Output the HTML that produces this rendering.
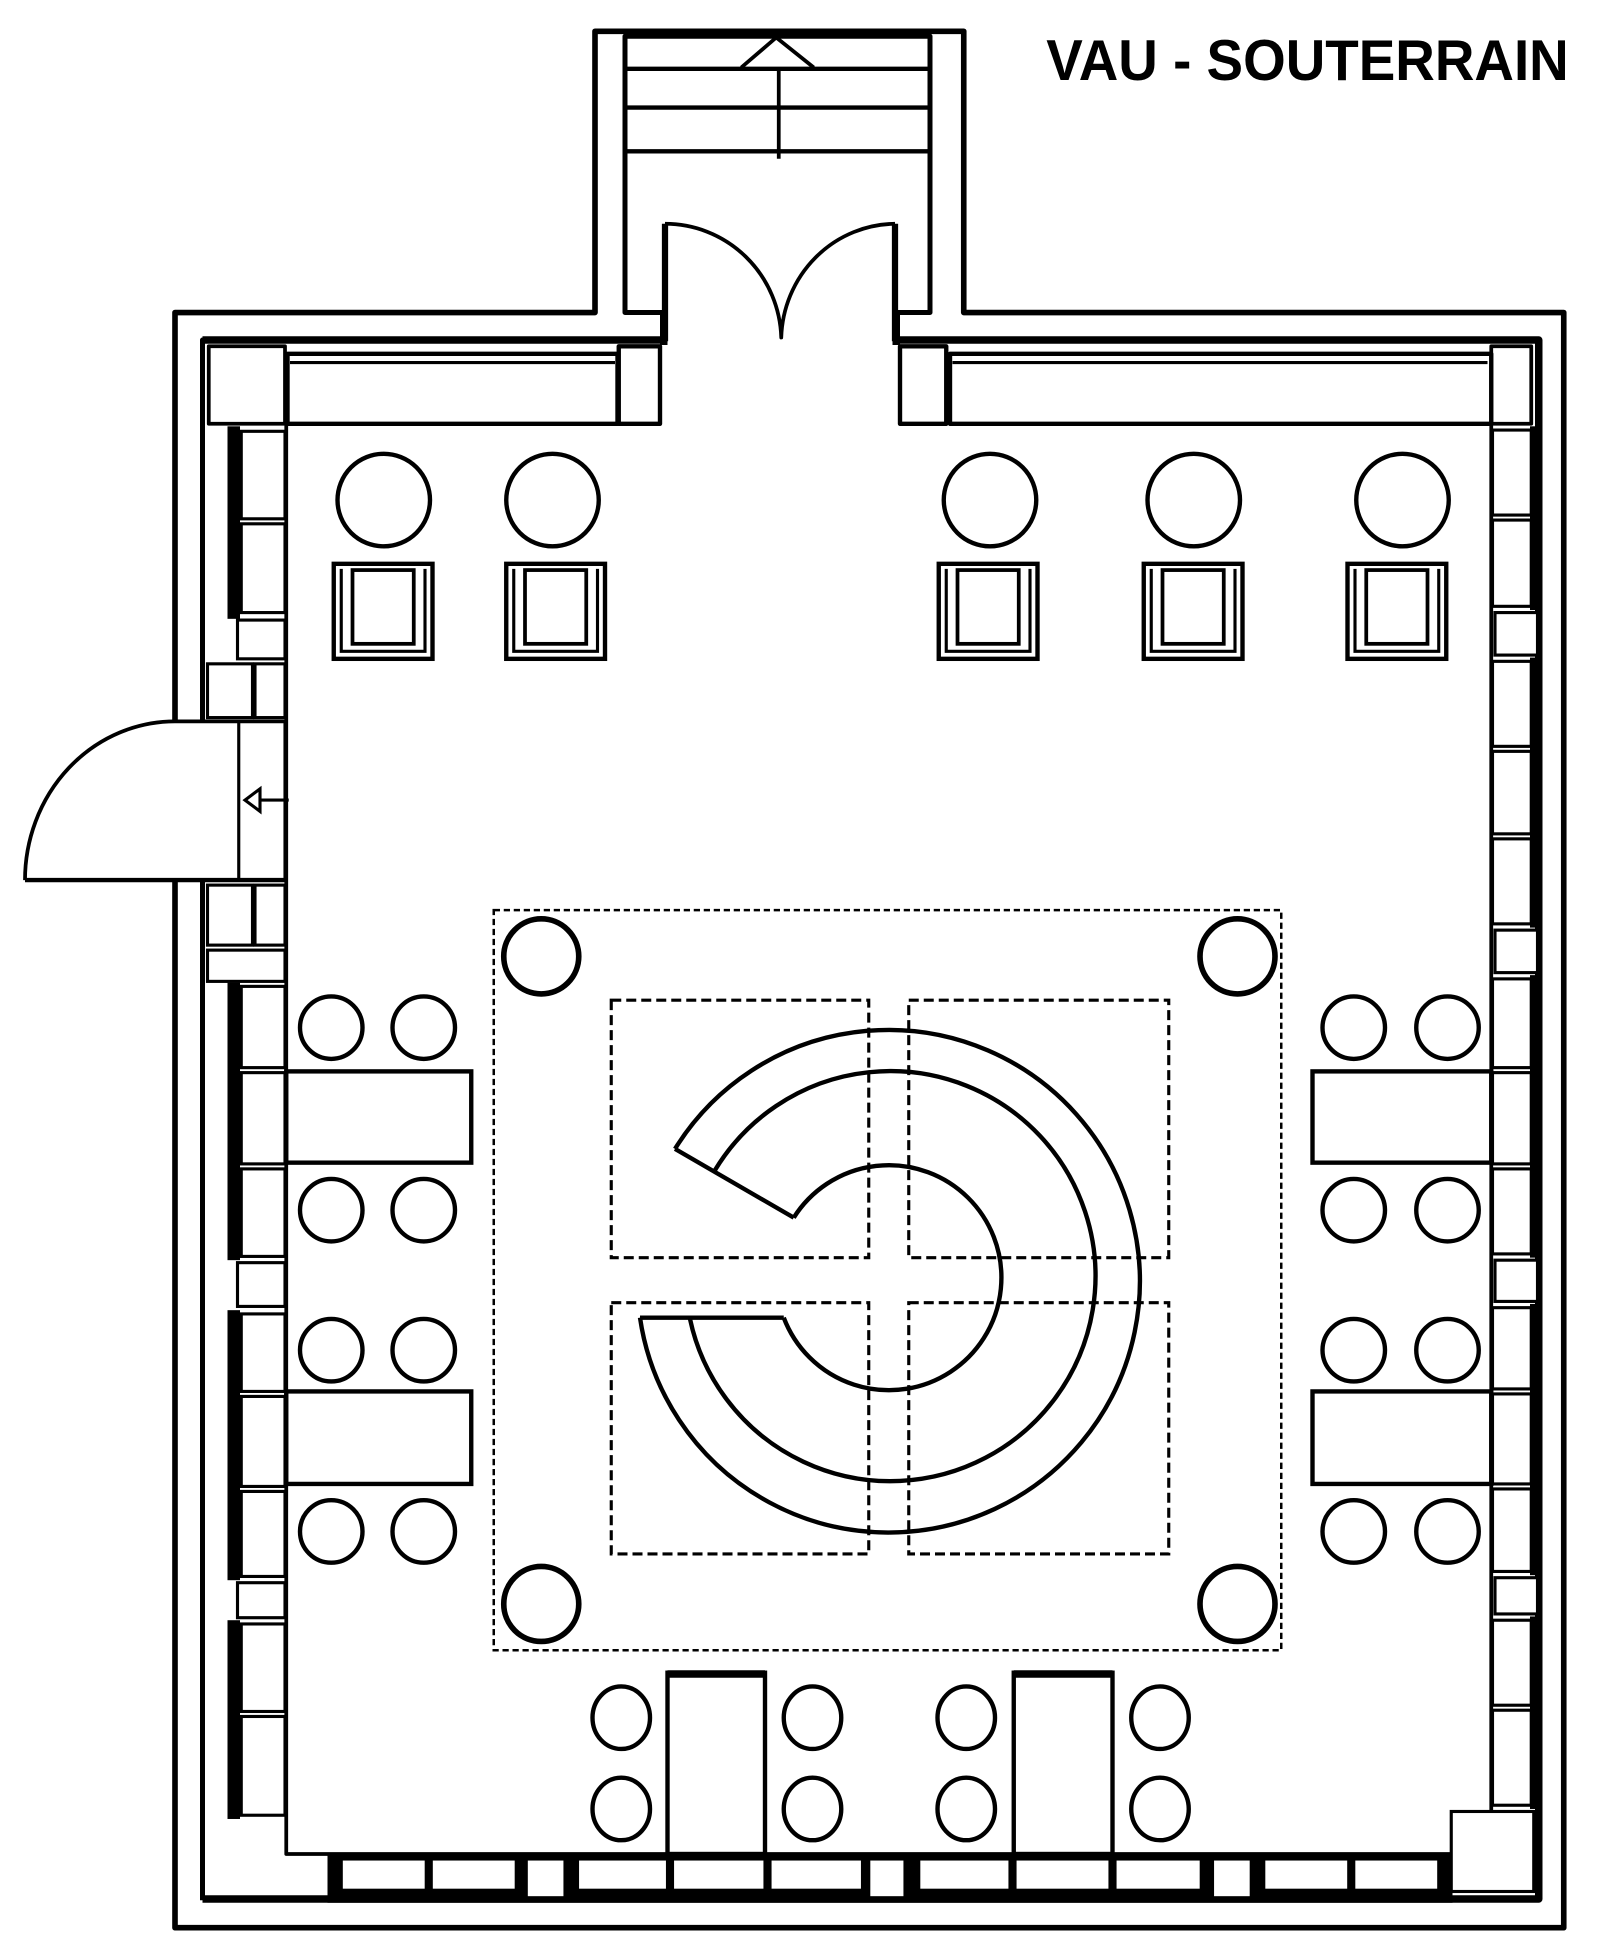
<!DOCTYPE html>
<html><head><meta charset="utf-8"><style>html,body{margin:0;padding:0;background:#fff}svg{display:block}</style></head>
<body>
<svg width="1600" height="1954" viewBox="0 0 1280 1563" preserveAspectRatio="none" xmlns="http://www.w3.org/2000/svg">
<rect width="1280" height="1563" fill="#fff"/>
<g fill="none" stroke="#000" stroke-width="3.5" stroke-linejoin="round">
<path d="M140,577 V250 H476 V25 H771 V250 H1251 V1542 H140 V704" stroke-width="4.5"/>
<path d="M162,577 V272 H532" stroke-width="4"/>
<path d="M162,704 V1520" stroke-width="4"/>
<path d="M162,1519 H1231 V272 H716" stroke-width="6"/>
<path d="M162,272 H532" stroke-width="6"/>
<path d="M532,250 H500 V29 H744 V250 H716" stroke-width="4"/>
<path d="M531,250 V276 M717,250 V276" stroke-width="6"/>
<path d="M532,179 V273 M716,179 V273" stroke-width="5"/>
<path d="M500,55 H744 M500,86 H744 M500,121 H744"/>
<path d="M623,55 V127" stroke-width="3"/>
<path d="M593,54 L621,30 L651,54" stroke-width="3"/>
<path d="M532,179 A93,94 0 0 1 625,270 A92,94 0 0 1 716,179" stroke-width="3"/>
<rect x="495" y="277" width="33" height="62"/>
<rect x="720" y="277" width="37" height="62"/>
<rect x="230" y="283" width="264" height="56"/>
<path d="M232,290 H492" stroke-width="2.5"/>
<rect x="760" y="283" width="433" height="56"/>
<path d="M762,290 H1190" stroke-width="2.5"/>
<path d="M229,339 V1483 H1193 V339" stroke-width="3"/>
<rect x="167" y="277" width="61" height="62" stroke-width="3"/>
<rect x="1193" y="277" width="32" height="62" stroke-width="3"/>
</g>
<g fill="#000">
<rect x="182" y="341" width="10" height="154"/>
<rect x="182" y="786" width="10" height="222"/>
<rect x="182" y="1048" width="10" height="216"/>
<rect x="182" y="1296" width="10" height="159"/>
<rect x="1224" y="341" width="10" height="147"/>
<rect x="1224" y="526" width="10" height="216"/>
<rect x="1224" y="780" width="10" height="226"/>
<rect x="1224" y="1043" width="10" height="217"/>
<rect x="1224" y="1293" width="10" height="154"/>
<rect x="262" y="1483" width="900" height="39"/>
</g>
<g fill="#fff" stroke="#000" stroke-width="2.5">
<rect x="193" y="345" width="35" height="70"/>
<rect x="193" y="419" width="35" height="71"/>
<rect x="190" y="496" width="38" height="31"/>
<rect x="166" y="531" width="36" height="43"/>
<rect x="204" y="531" width="24" height="43"/>
<rect x="191" y="577" width="37" height="127"/>
<rect x="166" y="708" width="36" height="48"/>
<rect x="204" y="708" width="24" height="48"/>
<rect x="166" y="760" width="62" height="25"/>
<rect x="193" y="789" width="35" height="65"/>
<rect x="193" y="858" width="35" height="73"/>
<rect x="193" y="935" width="35" height="70"/>
<rect x="190" y="1010" width="38" height="35"/>
<rect x="193" y="1051" width="35" height="62"/>
<rect x="193" y="1117" width="35" height="72"/>
<rect x="193" y="1193" width="35" height="68"/>
<rect x="190" y="1266" width="38" height="28"/>
<rect x="193" y="1299" width="35" height="70"/>
<rect x="193" y="1373" width="35" height="79"/>
<rect x="1194" y="344" width="31" height="68"/>
<rect x="1194" y="416" width="31" height="69"/>
<rect x="1196" y="490" width="34" height="34"/>
<rect x="1194" y="529" width="31" height="68"/>
<rect x="1194" y="601" width="31" height="66"/>
<rect x="1194" y="671" width="31" height="68"/>
<rect x="1196" y="744" width="34" height="34"/>
<rect x="1194" y="783" width="31" height="71"/>
<rect x="1194" y="858" width="31" height="73"/>
<rect x="1194" y="935" width="31" height="68"/>
<rect x="1196" y="1008" width="34" height="33"/>
<rect x="1194" y="1046" width="31" height="65"/>
<rect x="1194" y="1115" width="31" height="72"/>
<rect x="1194" y="1191" width="31" height="66"/>
<rect x="1196" y="1262" width="34" height="29"/>
<rect x="1194" y="1296" width="31" height="68"/>
<rect x="1194" y="1368" width="31" height="76"/>
<rect x="1161" y="1449" width="66" height="64"/>
<rect x="273" y="1487" width="68" height="25"/>
<rect x="345" y="1487" width="68" height="25"/>
<rect x="421" y="1487" width="31" height="31"/>
<rect x="462" y="1487" width="72" height="25"/>
<rect x="538" y="1487" width="74" height="25"/>
<rect x="616" y="1487" width="74" height="25"/>
<rect x="695" y="1487" width="29" height="31"/>
<rect x="735" y="1487" width="73" height="25"/>
<rect x="812" y="1487" width="76" height="25"/>
<rect x="892" y="1487" width="69" height="25"/>
<rect x="970" y="1487" width="31" height="31"/>
<rect x="1011" y="1487" width="68" height="25"/>
<rect x="1083" y="1487" width="68" height="25"/>
</g>
<g fill="none" stroke="#000" stroke-width="3.5">
<path d="M20,704 A120,127 0 0 1 140,577 H228" stroke-width="3"/>
<path d="M20,704 H228"/>
<path d="M196,640 L208,631 L208,649 Z M208,640 H231" stroke-width="2.5"/>
<circle cx="307" cy="400" r="37"/>
<circle cx="442" cy="400" r="37"/>
<circle cx="792" cy="400" r="37"/>
<circle cx="955" cy="400" r="37"/>
<circle cx="1122" cy="400" r="37"/>
<g id="ch">
<rect x="267" y="451" width="79" height="76"/>
<path d="M273,455 V521 H340 V455" stroke-width="2.5"/>
<rect x="282" y="456" width="49" height="59" stroke-width="3"/>
</g>
<use href="#ch" x="138"/>
<use href="#ch" x="484"/>
<use href="#ch" x="648"/>
<use href="#ch" x="811"/>
<rect x="229" y="857" width="148" height="73"/>
<rect x="229" y="1113" width="148" height="74"/>
<rect x="1050" y="857" width="143" height="73"/>
<rect x="1050" y="1113" width="143" height="74"/>
<circle cx="265" cy="822" r="25"/><circle cx="339" cy="822" r="25"/>
<circle cx="265" cy="968" r="25"/><circle cx="339" cy="968" r="25"/>
<circle cx="265" cy="1080" r="25"/><circle cx="339" cy="1080" r="25"/>
<circle cx="265" cy="1225" r="25"/><circle cx="339" cy="1225" r="25"/>
<circle cx="1083" cy="822" r="25"/><circle cx="1158" cy="822" r="25"/>
<circle cx="1083" cy="968" r="25"/><circle cx="1158" cy="968" r="25"/>
<circle cx="1083" cy="1080" r="25"/><circle cx="1158" cy="1080" r="25"/>
<circle cx="1083" cy="1225" r="25"/><circle cx="1158" cy="1225" r="25"/>
<rect x="534" y="1338" width="78" height="145"/>
<rect x="811" y="1338" width="79" height="145"/>
<path d="M534,1339 H612 M811,1339 H890" stroke-width="6"/>
<ellipse cx="497" cy="1374" rx="23" ry="25"/><ellipse cx="650" cy="1374" rx="23" ry="25"/>
<ellipse cx="497" cy="1447" rx="23" ry="25"/><ellipse cx="650" cy="1447" rx="23" ry="25"/>
<ellipse cx="773" cy="1374" rx="23" ry="25"/><ellipse cx="928" cy="1374" rx="23" ry="25"/>
<ellipse cx="773" cy="1447" rx="23" ry="25"/><ellipse cx="928" cy="1447" rx="23" ry="25"/>
<rect x="395" y="728" width="630" height="592" stroke-width="2" stroke-dasharray="5,3"/>
<g stroke-width="2.5" stroke-dasharray="8,4">
<rect x="489" y="800" width="206" height="206"/>
<rect x="727" y="800" width="208" height="206"/>
<rect x="489" y="1042" width="206" height="201"/>
<rect x="727" y="1042" width="208" height="201"/>
</g>
<circle cx="433" cy="765" r="30" stroke-width="4.5"/>
<circle cx="990" cy="765" r="30" stroke-width="4.5"/>
<circle cx="433" cy="1283" r="30" stroke-width="4.5"/>
<circle cx="990" cy="1283" r="30" stroke-width="4.5"/>
<path d="M540,919 A201,201 0 1 1 512,1054"/>
<path d="M572,936 A164,164 0 1 1 552,1055"/>
<path d="M635,974 A90,90 0 1 1 627,1054"/>
<path d="M540,919 L635,974"/>
<path d="M512,1054 H627"/>
</g>
<text x="837" y="64" font-family="Liberation Sans, sans-serif" font-weight="bold" font-size="46" textLength="418" lengthAdjust="spacingAndGlyphs">VAU - SOUTERRAIN</text>
</svg>
</body></html>
